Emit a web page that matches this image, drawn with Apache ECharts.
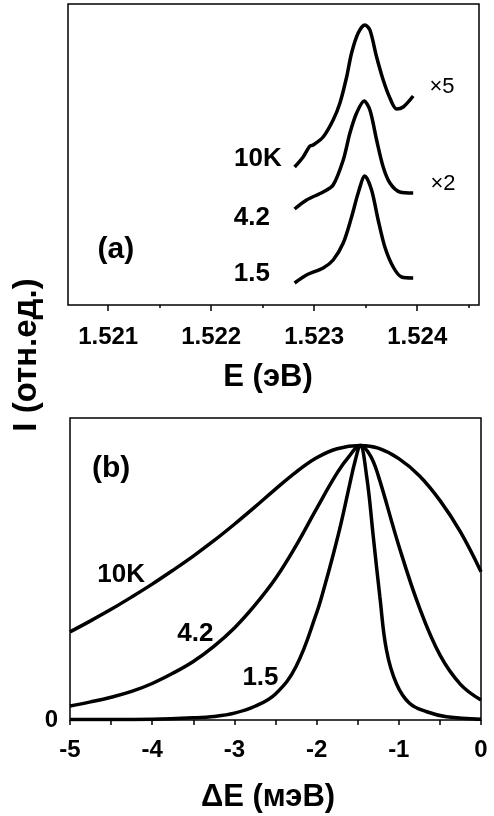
<!DOCTYPE html>
<html>
<head>
<meta charset="utf-8">
<script src="https://cdn.jsdelivr.net/npm/echarts@6/dist/echarts.min.js"></script>
<style>
  html, body { margin: 0; padding: 0; background: #fff; }
  #chart { width: 494px; height: 816px; }
</style>
</head>
<body>
<div id="chart"></div>
<script>
// panel (a): spectra vs E (eV), offset vertically
const a10kE = [1.52281, 1.522893, 1.522958, 1.52299, 1.523087, 1.523184, 1.52325, 1.523315, 1.523363, 1.523427, 1.523492, 1.523541, 1.523606, 1.52367, 1.523735, 1.5238, 1.523864, 1.523961]
const a10kI = [1.38, 1.48, 1.59, 1.60, 1.68, 1.85, 2.02, 2.28, 2.52, 2.72, 2.80, 2.75, 2.48, 2.25, 2.07, 1.96, 1.98, 2.09]
const a42E = [1.52281, 1.522926, 1.523087, 1.523184, 1.523282, 1.523347, 1.523412, 1.523485, 1.523541, 1.523606, 1.52367, 1.523735, 1.523832, 1.523961]
const a42I = [0.96, 1.05, 1.13, 1.20, 1.45, 1.72, 1.92, 2.04, 1.95, 1.65, 1.38, 1.22, 1.13, 1.12]
const a15E = [1.52281, 1.522926, 1.523087, 1.523184, 1.523282, 1.523363, 1.523427, 1.523492, 1.523557, 1.523621, 1.523686, 1.523767, 1.523849, 1.523961]
const a15I = [0.22, 0.30, 0.37, 0.45, 0.62, 0.88, 1.12, 1.29, 1.15, 0.85, 0.58, 0.38, 0.28, 0.27]
const aTicks = [1.521, 1.522, 1.523, 1.524]
const aMinor = [1.5215, 1.5225, 1.5235, 1.5245]

// panel (b): normalized line shapes vs dE (meV)
const b10kE = [-5, -4.75, -4.5, -4.25, -4, -3.75, -3.5, -3.25, -3, -2.75, -2.5, -2.25, -2, -1.75, -1.47, -1.25, -1, -0.75, -0.5, -0.25, 0]
const b10kI = [0.321, 0.361, 0.403, 0.448, 0.495, 0.545, 0.597, 0.653, 0.713, 0.776, 0.841, 0.903, 0.955, 0.988, 1.0, 0.99, 0.952, 0.89, 0.80, 0.685, 0.54]
const b42E = [-5, -4.75, -4.5, -4.25, -4, -3.75, -3.5, -3.25, -3, -2.75, -2.5, -2.25, -2, -1.75, -1.6, -1.47, -1.35, -1.25, -1, -0.75, -0.5, -0.25, 0]
const b42I = [0.051, 0.066, 0.083, 0.104, 0.133, 0.17, 0.213, 0.268, 0.335, 0.418, 0.515, 0.635, 0.77, 0.90, 0.962, 1.0, 0.965, 0.89, 0.635, 0.41, 0.237, 0.13, 0.073]
const b15E = [-5, -4.5, -4, -3.5, -3.25, -3, -2.75, -2.5, -2.25, -2, -1.9, -1.8, -1.7, -1.6, -1.53, -1.47, -1.39, -1.31, -1.23, -1.15, -1.03, -0.87, -0.66, -0.42, 0]
const b15I = [0.002, 0.002, 0.003, 0.008, 0.013, 0.025, 0.05, 0.095, 0.195, 0.39, 0.49, 0.60, 0.72, 0.855, 0.945, 1.0, 0.885, 0.667, 0.448, 0.255, 0.133, 0.061, 0.03, 0.012, 0.003]
const bTicks = [-5, -4, -3, -2, -1, 0]

// text inside the plots, in data coordinates
const aNotes = [
  { text: '10K', x: 1.522453, y: 1.46, size: 26, weight: 'bold' },
  { text: '4.2', x: 1.522395, y: 0.87, size: 26, weight: 'bold' },
  { text: '1.5', x: 1.522395, y: 0.31, size: 26, weight: 'bold' },
  { text: '(a)', x: 1.521075, y: 0.55, size: 30, weight: 'bold' },
  { text: '×5', x: 1.52424, y: 2.18, size: 22, weight: 'normal' },
  { text: '×2', x: 1.52425, y: 1.21, size: 22, weight: 'normal' }
]
const bNotes = [
  { text: '(b)', x: -4.5, y: 0.916, size: 30, weight: 'bold' },
  { text: '10K', x: -4.378, y: 0.527, size: 26, weight: 'bold' },
  { text: '4.2', x: -3.476, y: 0.313, size: 26, weight: 'bold' },
  { text: '1.5', x: -2.683, y: 0.153, size: 26, weight: 'bold' }
]

const zip = (xs, ys) => xs.map((x, i) => [x, ys[i]])
const font = 'Liberation Sans, Arial, sans-serif'

const curve = (gi, xs, ys, smooth) => ({
  type: 'line',
  xAxisIndex: gi === 0 ? 0 : 2,
  yAxisIndex: gi,
  data: zip(xs, ys),
  symbol: 'none',
  smooth: smooth,
  lineStyle: { color: '#000', width: 3.5 },
  silent: true
})

const notes = (gi, list) => ({
  type: 'scatter',
  xAxisIndex: gi === 0 ? 0 : 2,
  yAxisIndex: gi,
  symbolSize: 0,
  silent: true,
  itemStyle: { opacity: 1 },
  data: list.map((n) => ({
    value: [n.x, n.y],
    label: {
      show: true,
      position: 'inside',
      formatter: n.text,
      color: '#000',
      opacity: 1,
      textBorderWidth: 0,
      fontFamily: font,
      fontWeight: n.weight,
      fontSize: n.size
    }
  }))
})

const chart = echarts.init(document.getElementById('chart'))

const option = {
  animation: false,
  backgroundColor: '#fff',
  grid: [
    { left: 68, top: 4, width: 411, height: 301, show: true, borderColor: '#000', borderWidth: 1.5, backgroundColor: 'transparent' },
    { left: 70, top: 418, width: 411, height: 302, show: true, borderColor: '#000', borderWidth: 1.5, backgroundColor: 'transparent' }
  ],
  xAxis: [
    {
      gridIndex: 0,
      type: 'value',
      min: 1.52061,
      max: 1.5246,
      position: 'bottom',
      axisLine: { show: false },
      splitLine: { show: false },
      axisTick: { show: true, customValues: aTicks, length: 6, lineStyle: { color: '#000', width: 1.5 } },
      axisLabel: {
        customValues: aTicks,
        formatter: (v) => v.toFixed(3),
        margin: 20,
        color: '#000',
        fontFamily: font,
        fontWeight: 'bold',
        fontSize: 24
      }
    },
    {
      gridIndex: 0,
      type: 'value',
      min: 1.52061,
      max: 1.5246,
      position: 'bottom',
      axisLine: { show: false },
      splitLine: { show: false },
      axisTick: { show: true, customValues: aMinor, length: 3, lineStyle: { color: '#000', width: 1.5 } },
      axisLabel: { show: false }
    },
    {
      gridIndex: 1,
      type: 'value',
      min: -5,
      max: 0,
      interval: 0.5,
      axisLine: { show: false },
      splitLine: { show: false },
      axisTick: { show: true, length: 5, lineStyle: { color: '#000', width: 1.5 } },
      axisLabel: {
        customValues: bTicks,
        margin: 18,
        color: '#000',
        fontFamily: font,
        fontWeight: 'bold',
        fontSize: 24
      }
    }
  ],
  yAxis: [
    {
      gridIndex: 0,
      type: 'value',
      min: 0,
      max: 3.01,
      axisLine: { show: false },
      axisTick: { show: false },
      axisLabel: { show: false },
      splitLine: { show: false }
    },
    {
      gridIndex: 1,
      type: 'value',
      min: 0,
      max: 1.1,
      axisLine: { show: false },
      splitLine: { show: false },
      axisTick: { show: true, customValues: [0], length: 6, lineStyle: { color: '#000', width: 1.5 } },
      axisLabel: {
        customValues: [0],
        margin: 12,
        color: '#000',
        fontFamily: font,
        fontWeight: 'bold',
        fontSize: 24
      }
    }
  ],
  graphic: [
    {
      type: 'text',
      x: 268,
      y: 377,
      style: { text: 'E (эВ)', fill: '#000', font: 'bold 31px ' + font, align: 'center', verticalAlign: 'middle' }
    },
    {
      type: 'text',
      x: 268,
      y: 797,
      style: { text: 'ΔE (мэВ)', fill: '#000', font: 'bold 31px ' + font, align: 'center', verticalAlign: 'middle' }
    },
    {
      type: 'text',
      x: 27,
      y: 355,
      rotation: Math.PI / 2,
      style: { text: 'I (отн.ед.)', fill: '#000', font: 'bold 33px ' + font, align: 'center', verticalAlign: 'middle' }
    }
  ],
  series: [
    curve(0, a10kE, a10kI, 0.3),
    curve(0, a42E, a42I, 0.3),
    curve(0, a15E, a15I, 0.3),
    curve(1, b10kE, b10kI, 0.4),
    curve(1, b42E, b42I, 0.4),
    curve(1, b15E, b15I, 0.4),
    notes(0, aNotes),
    notes(1, bNotes)
  ]
}

chart.setOption(option)
</script>
</body>
</html>
